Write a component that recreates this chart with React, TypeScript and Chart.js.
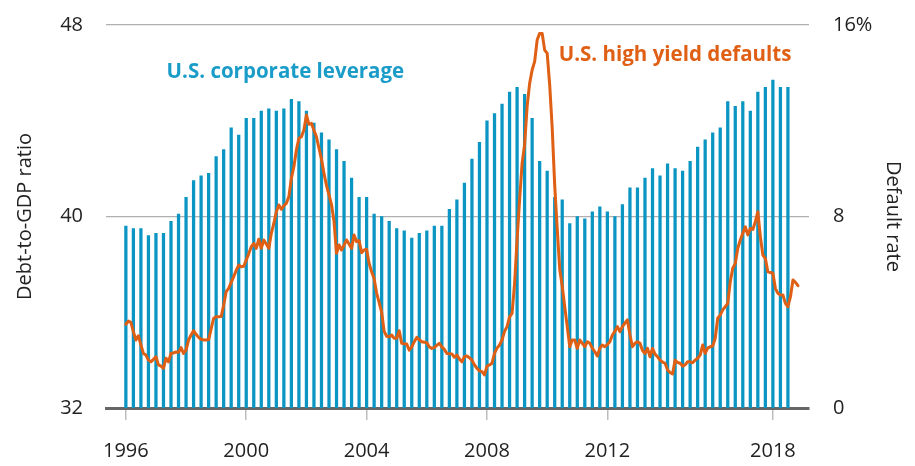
import React, { useEffect, useRef } from "react";
import { Chart, registerables } from "chart.js";

Chart.register(...registerables);

// Quarterly U.S. corporate leverage (debt-to-GDP, %), 1996 Q1 .. 2018 Q1
const leverageStartYear = 1996;
const leverage: number[] = [
  39.6, 39.5, 39.5, 39.2,
  39.3, 39.3, 39.8, 40.1,
  40.8, 41.5, 41.7, 41.8,
  42.5, 42.8, 43.7, 43.4,
  44.1, 44.1, 44.4, 44.5,
  44.4, 44.5, 44.9, 44.8,
  44.4, 43.9, 43.5, 43.2,
  42.8, 42.3, 41.6, 40.8,
  40.8, 40.1, 40.0, 39.8,
  39.5, 39.4, 39.1, 39.3,
  39.4, 39.6, 39.6, 40.3,
  40.7, 41.4, 42.4, 43.1,
  44.0, 44.3, 44.7, 45.2,
  45.4, 45.1, 44.1, 42.3,
  41.9, 40.8, 40.7, 39.7,
  40.0, 39.9, 40.2, 40.4,
  40.2, 40.0, 40.5, 41.2,
  41.2, 41.6, 42.0, 41.7,
  42.2, 42.0, 41.9, 42.3,
  42.9, 43.2, 43.5, 43.7,
  44.8, 44.6, 44.8, 44.4,
  45.2, 45.4, 45.7, 45.4,
  45.4,
];

// Monthly U.S. high yield default rate (%), Jan 1996 .. May 2018
const defaultsStartYear = 1996;
const defaults: number[] = [
  3.50, 3.63, 3.58, 3.19, 2.84, 3.02, 2.63, 2.28, 2.21, 2.00, 1.93, 2.03,
  2.14, 1.80, 1.75, 1.66, 2.08, 1.93, 2.28, 2.30, 2.34, 2.33, 2.52, 2.28,
  2.42, 2.84, 3.05, 3.23, 3.08, 2.95, 2.87, 2.84, 2.84, 2.86, 3.30, 3.75,
  3.81, 3.81, 3.82, 4.30, 4.86, 5.00, 5.25, 5.49, 5.75, 5.97, 5.90, 5.92,
  6.18, 6.45, 6.74, 6.88, 6.67, 7.05, 6.67, 7.02, 6.85, 6.67, 7.30, 7.71,
  8.20, 8.48, 8.30, 8.45, 8.55, 8.83, 9.60, 10.08, 10.78, 11.27, 11.33, 11.61,
  12.24, 11.85, 11.89, 11.60, 11.33, 10.85, 10.40, 9.80, 9.30, 8.90, 8.50, 7.80,
  6.46, 6.81, 6.60, 6.80, 7.02, 6.85, 6.67, 7.23, 6.95, 6.99, 6.49, 6.60,
  6.63, 6.04, 5.69, 5.40, 4.80, 4.40, 4.00, 3.20, 3.00, 2.98, 3.05, 2.91,
  2.91, 3.23, 2.70, 2.68, 2.67, 2.42, 2.55, 2.77, 2.95, 2.85, 2.77, 2.75,
  2.73, 2.55, 2.49, 2.52, 2.62, 2.70, 2.55, 2.45, 2.28, 2.27, 2.26, 2.12,
  2.21, 2.05, 1.93, 2.14, 2.17, 2.10, 2.00, 1.80, 1.66, 1.55, 1.52, 1.38,
  1.75, 1.80, 1.87, 2.28, 2.50, 2.63, 2.84, 3.20, 3.40, 3.81, 3.95, 5.20,
  7.02, 8.69, 10.22, 11.00, 12.59, 13.56, 14.12, 14.47, 15.37, 15.65, 15.65, 14.95,
  14.82, 13.50, 11.70, 9.30, 7.50, 5.80, 5.10, 4.23, 3.40, 2.56, 2.84, 2.84,
  2.49, 2.84, 2.70, 2.56, 2.77, 2.70, 2.50, 2.35, 2.17, 2.50, 2.63, 2.56,
  2.65, 2.77, 3.05, 3.20, 3.40, 3.19, 3.40, 3.55, 3.68, 3.05, 2.56, 2.70,
  2.77, 2.70, 2.40, 2.28, 2.49, 2.14, 2.49, 2.25, 2.14, 2.00, 1.92, 1.87,
  1.59, 1.48, 1.42, 2.00, 1.90, 1.87, 1.75, 1.80, 1.93, 1.93, 1.89, 2.00,
  2.08, 2.21, 2.63, 2.28, 2.50, 2.56, 2.59, 2.91, 3.75, 3.88, 4.10, 4.23,
  4.37, 5.28, 5.84, 6.04, 6.67, 7.02, 7.30, 7.57, 7.23, 7.50, 7.46, 7.78,
  8.20, 7.16, 6.39, 6.25, 5.69, 5.66, 5.63, 5.00, 4.79, 4.72, 4.72, 4.37,
  4.23, 4.65, 5.35, 5.25, 5.11,
];

// Axis ticks
const xTickValues: number[] = [1996, 2000, 2004, 2008, 2012, 2017.5];
const xTickLabels: string[] = ["1996", "2000", "2004", "2008", "2012", "2018"];
const leftTicks: number[] = [32, 40, 48];
const rightTicks: number[] = [0, 8, 16];

const leverageLabel = "U.S. corporate leverage";
const defaultsLabel = "U.S. high yield defaults";

const BLUE = "#0a95c2";
const ORANGE = "#df5f14";
const FONT = "'Open Sans', 'DejaVu Sans', sans-serif";

const seriesLabels = {
  id: "seriesLabels",
  afterDatasetsDraw(chart: any) {
    const { ctx, scales } = chart;
    const x = scales.x;
    const y = scales.y;
    ctx.save();
    ctx.font = `bold 20.5px ${FONT}`;
    ctx.textAlign = "center";
    ctx.textBaseline = "middle";
    ctx.fillStyle = "#1a9cc8";
    ctx.fillText(leverageLabel, x.getPixelForValue(2001.3), y.getPixelForValue(46.03));
    ctx.fillStyle = ORANGE;
    ctx.fillText(defaultsLabel, x.getPixelForValue(2014.25), y.getPixelForValue(46.75));
    ctx.restore();
  },
};

const noVPad = (s: any, w: number) => {
  s.width = w;
  s.paddingTop = 0;
  s.paddingBottom = 0;
};

export default function App() {
  const ref = useRef<HTMLCanvasElement>(null);

  useEffect(() => {
    if (!ref.current) return;
    const barData = leverage.map((v, i) => ({ x: leverageStartYear + i / 4, y: v }));
    const lineData = defaults.map((v, i) => ({ x: defaultsStartYear + i / 12, y: v }));

    const chart = new Chart(ref.current, {
      type: "bar",
      data: {
        datasets: [
          {
            type: "line",
            label: defaultsLabel,
            data: lineData,
            yAxisID: "y2",
            borderColor: ORANGE,
            borderWidth: 3,
            pointRadius: 0,
            tension: 0,
            borderJoinStyle: "round",
            borderCapStyle: "round",
            order: 0,
          } as any,
          {
            type: "bar",
            label: leverageLabel,
            data: barData,
            yAxisID: "y",
            backgroundColor: BLUE,
            barThickness: 2.6,
            order: 1,
          } as any,
        ],
      },
      options: {
        responsive: false,
        animation: false,
        layout: { padding: { top: 25, left: 0, right: 0, bottom: 0 } },
        plugins: { legend: { display: false }, tooltip: { enabled: false } },
        scales: {
          x: {
            type: "linear",
            offset: false,
            min: 1995.34,
            max: 2018.7,
            afterBuildTicks: (s: any) => {
              s.ticks = xTickValues.map((v) => ({ value: v }));
            },
            afterFit: (s: any) => {
              s.height = 58;
            },
            ticks: {
              autoSkip: false,
              maxRotation: 0,
              padding: 19,
              color: "#222",
              font: { family: FONT, size: 20 },
              callback: (v: any) => {
                const i = xTickValues.indexOf(Number(v));
                return i >= 0 ? xTickLabels[i] : "";
              },
            },
            grid: {
              offset: false,
              drawOnChartArea: false,
              drawTicks: true,
              tickLength: 12,
              color: "#bdbdbd",
              lineWidth: 1.5,
            },
            border: { display: true, color: "#666", width: 3 },
          },
          y: {
            position: "left",
            min: 32,
            max: 48,
            afterBuildTicks: (s: any) => {
              s.ticks = leftTicks.map((v) => ({ value: v }));
            },
            afterFit: (s: any) => noVPad(s, 106),
            ticks: {
              padding: 23,
              color: "#222",
              font: { family: FONT, size: 20 },
            },
            grid: {
              drawTicks: false,
              color: (c: any) => (c.tick && c.tick.value === 32 ? "rgba(0,0,0,0)" : "#b0b0b0"),
              lineWidth: 1.3,
            },
            border: { display: false },
            title: {
              display: true,
              text: "Debt-to-GDP ratio",
              color: "#222",
              font: { family: FONT, size: 20 },
              padding: { top: 13, bottom: 0 },
            },
          },
          y2: {
            position: "right",
            min: 0,
            max: 16,
            afterBuildTicks: (s: any) => {
              s.ticks = rightTicks.map((v) => ({ value: v }));
            },
            afterFit: (s: any) => noVPad(s, 106),
            ticks: {
              padding: 24,
              color: "#222",
              font: { family: FONT, size: 20 },
              callback: (v: any) => (Number(v) === 16 ? "16%" : String(v)),
            },
            grid: { display: false, drawTicks: false },
            border: { display: false },
            title: {
              display: true,
              text: "Default rate",
              color: "#222",
              font: { family: FONT, size: 20 },
              padding: { top: 10, bottom: 0 },
            },
          },
        },
      },
      plugins: [seriesLabels],
    });
    return () => chart.destroy();
  }, []);

  return (
    <div style={{ position: "absolute", left: 0, top: 0, width: 915, height: 466, background: "#fff" }}>
      <canvas ref={ref} width={915} height={466} style={{ display: "block", width: 915, height: 466 }} />
    </div>
  );
}
